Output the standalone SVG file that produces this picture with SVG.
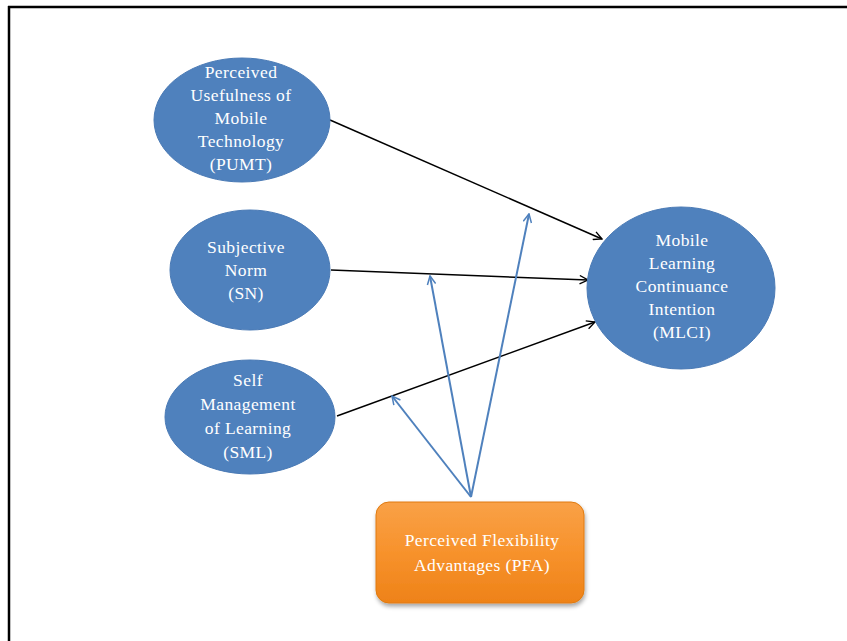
<svg xmlns="http://www.w3.org/2000/svg" width="847" height="641" viewBox="0 0 847 641">
<defs>
<style>
.node{fill:#4F81BD;stroke:#4A7AB5;stroke-width:1}
.t{font-family:"Liberation Serif","DejaVu Serif",serif;font-size:17.5px;letter-spacing:0.4px;fill:#FFFFFF;text-anchor:middle}
.blk{stroke:#000;stroke-width:1.5;fill:none;marker-end:url(#ab)}
.blu{stroke:#4F81BD;stroke-width:2;fill:none;marker-end:url(#au)}
</style>
<marker id="ab" viewBox="0 0 12 12" refX="11" refY="6" markerWidth="10" markerHeight="10" markerUnits="userSpaceOnUse" orient="auto">
<polyline points="1,1 11,6 1,11" fill="none" stroke="#000" stroke-width="1.6"/>
</marker>
<marker id="au" viewBox="0 0 12 12" refX="11" refY="6" markerWidth="10" markerHeight="10" markerUnits="userSpaceOnUse" orient="auto">
<polyline points="1,1 11,6 1,11" fill="none" stroke="#4F81BD" stroke-width="1.8"/>
</marker>
<linearGradient id="og" x1="0" y1="0" x2="0" y2="1">
<stop offset="0" stop-color="#F9A147"/>
<stop offset="0.5" stop-color="#F7922C"/>
<stop offset="1" stop-color="#EE8218"/>
</linearGradient>
<filter id="sh" x="-10%" y="-10%" width="125%" height="130%">
<feDropShadow dx="1" dy="3" stdDeviation="2" flood-color="#000" flood-opacity="0.35"/>
</filter>
</defs>
<rect width="847" height="641" fill="#FFFFFF"/>
<g id="frame">
<line x1="8" y1="7" x2="847" y2="7" stroke="#000" stroke-width="2.5"/>
<line x1="9" y1="6" x2="9" y2="641" stroke="#000" stroke-width="2.5"/>
</g>
<g id="connectors">
<line class="blk" x1="330" y1="120" x2="602" y2="239"/>
<line class="blk" x1="331" y1="270" x2="588" y2="280"/>
<line class="blk" x1="337" y1="416" x2="595" y2="322"/>
<line class="blu" x1="471" y1="497" x2="392" y2="396"/>
<line class="blu" x1="471" y1="497" x2="430" y2="276"/>
<line class="blu" x1="471" y1="497" x2="529" y2="214"/>
</g>
<g id="PUMT">
<ellipse class="node" cx="242" cy="120" rx="88" ry="62"/>
<text class="t" x="241" y="78">Perceived</text>
<text class="t" x="241" y="101">Usefulness of</text>
<text class="t" x="241" y="124">Mobile</text>
<text class="t" x="241" y="147">Technology</text>
<text class="t" x="241" y="170">(PUMT)</text>
</g>
<g id="SN">
<ellipse class="node" cx="250" cy="270" rx="80" ry="60"/>
<text class="t" x="246" y="253">Subjective</text>
<text class="t" x="246" y="276">Norm</text>
<text class="t" x="246" y="299">(SN)</text>
</g>
<g id="SML">
<ellipse class="node" cx="250" cy="417" rx="85" ry="57"/>
<text class="t" x="248" y="386">Self</text>
<text class="t" x="248" y="410">Management</text>
<text class="t" x="248" y="434">of Learning</text>
<text class="t" x="248" y="458">(SML)</text>
</g>
<g id="MLCI">
<ellipse class="node" cx="681" cy="288" rx="94" ry="81"/>
<text class="t" x="682" y="246">Mobile</text>
<text class="t" x="682" y="269">Learning</text>
<text class="t" x="682" y="292">Continuance</text>
<text class="t" x="682" y="315">Intention</text>
<text class="t" x="682" y="338">(MLCI)</text>
</g>
<g id="PFA">
<rect x="376" y="502" width="208" height="101" rx="13" ry="13" fill="url(#og)" stroke="#E07A10" stroke-width="1" filter="url(#sh)"/>
<text class="t" x="482" y="546">Perceived Flexibility</text>
<text class="t" x="482" y="571">Advantages (PFA)</text>
</g>
</svg>
